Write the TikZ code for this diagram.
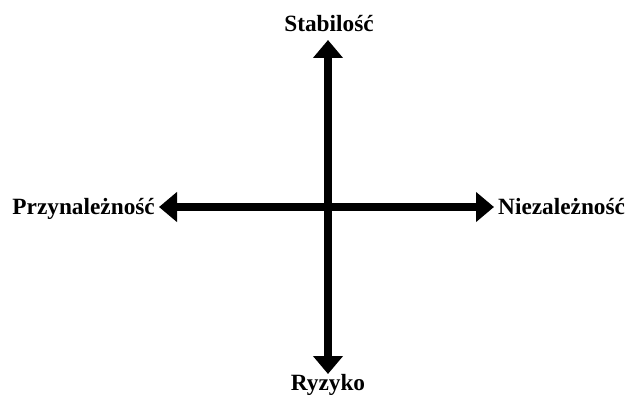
\documentclass[tikz,border=0pt]{standalone}
\usepackage{fontspec}
\setmainfont{Liberation Serif}
\usetikzlibrary{arrows.meta}
\begin{document}
\begin{tikzpicture}[x=1pt,y=-1pt,
  axis/.style={line width=8pt,{Triangle[width=29pt,length=18pt]}-{Triangle[width=29pt,length=18pt]}},
  lbl/.style={font=\bfseries\fontsize{23.3}{27}\selectfont,inner sep=0pt}]
\clip (0,0) rectangle (631,396);
\useasboundingbox (0,0) rectangle (631,396);
\coordinate (top) at (328,40);
\coordinate (bot) at (328,374);
\coordinate (lft) at (159,207);
\coordinate (rgt) at (494,207);
\draw[axis] (bot) -- (top);
\draw[axis] (lft) -- (rgt);
\node[lbl,anchor=base] (stab) at (329,32) {Stabilość};
\node[lbl,anchor=base] (ryz) at (328,390) {Ryzyko};
\node[lbl,anchor=base east] (przy) at (155,214) {Przynależność};
\node[lbl,anchor=base west] (niez) at (498,214) {Niezależność};
\end{tikzpicture}
\end{document}
